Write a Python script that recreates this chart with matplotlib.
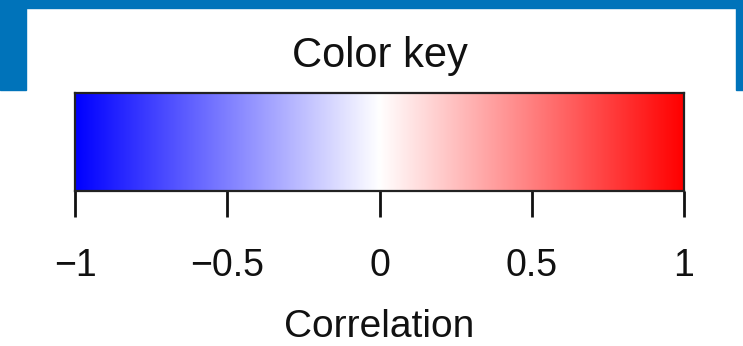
import numpy as np
import matplotlib
matplotlib.use("Agg")
import matplotlib.pyplot as plt
from matplotlib.colors import LinearSegmentedColormap
from matplotlib.patches import Rectangle

plt.rcParams['font.family'] = ['Liberation Sans', 'DejaVu Sans']

# --- data ---
tick_values = [-1, -0.5, 0, 0.5, 1]
tick_labels = ['\u22121', '\u22120.5', '0', '0.5', '1']
cmap_colors = ['#0000ff', '#ffffff', '#ff0000']
title_text = 'Color key'
axis_label = 'Correlation'

W, H = 743, 346
fig = plt.figure(figsize=(W / 100, H / 100), dpi=100)

# blue frame around the top
frame_blue = '#0073ba'
for x, y, w, h in [(0, 0, W, 8), (0, 0, 26, 90), (736, 0, 7, 90)]:
    fig.patches.append(Rectangle((x / W, 1 - (y + h) / H), w / W, h / H,
                                 transform=fig.transFigure, color=frame_blue, zorder=0))

# colour bar
left, right, top, bottom = 75, 684, 93, 191
ax = fig.add_axes([left / W, 1 - bottom / H, (right - left) / W, (bottom - top) / H])
cmap = LinearSegmentedColormap.from_list('bwr_key', cmap_colors, N=256)
grad = np.linspace(-1, 1, 256)[None, :]
ax.imshow(grad, cmap=cmap, vmin=-1, vmax=1, aspect='auto',
          extent=[-1, 1, 0, 1], interpolation='bilinear')
ax.set_xlim(-1, 1)
ax.set_ylim(0, 1)
ax.set_yticks([])
ax.set_xticks(tick_values)
ax.set_xticklabels(tick_labels)
ax.tick_params(axis='x', length=19, width=2, pad=22, labelsize=27,
               direction='out', labelcolor='#111111', color='#111111')
for s in ax.spines.values():
    s.set_linewidth(1.6)
    s.set_color('#222222')

fig.text((left + right) / 2 / W, 1 - 67 / H, title_text, ha='center',
         va='baseline', fontsize=30, color='#111111')
fig.text((left + right) / 2 / W, 1 - 337 / H, axis_label, ha='center',
         va='baseline', fontsize=28, color='#111111')

fig.savefig('out.png', dpi=100)
